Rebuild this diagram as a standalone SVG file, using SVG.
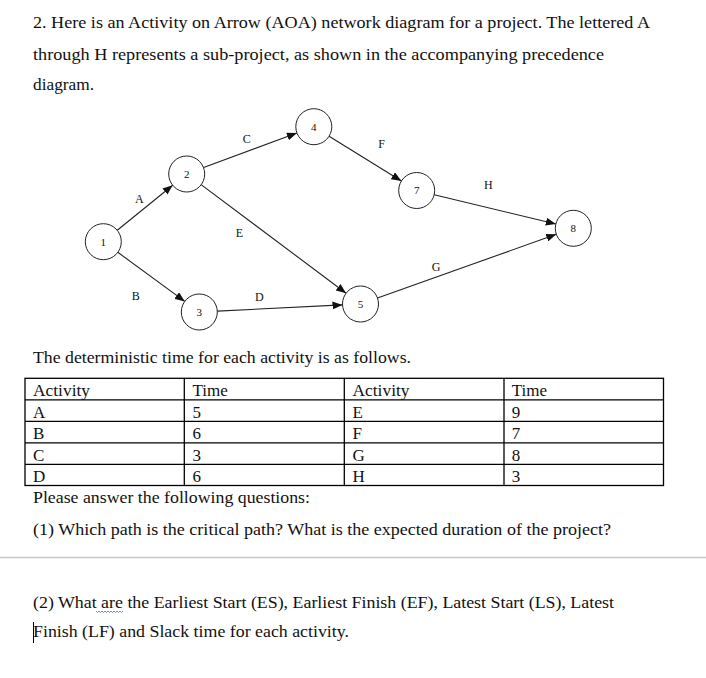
<svg xmlns="http://www.w3.org/2000/svg" width="706" height="678" viewBox="0 0 706 678">
<style>
.t{font-family:"Liberation Serif","Times New Roman",serif;font-size:17px;fill:#111}
.n{font-family:"Liberation Serif","Times New Roman",serif;font-size:11px;fill:#111;text-anchor:middle}
.l{font-family:"Liberation Serif","Times New Roman",serif;font-size:12px;fill:#111;text-anchor:middle}
.c{fill:#fff;stroke:#222;stroke-width:1}
.e{stroke:#222;stroke-width:1.1;fill:none;marker-end:url(#ah)}
.g{stroke:#000;stroke-width:1.3;fill:none}
</style>
<defs>
<marker id="ah" markerUnits="userSpaceOnUse" markerWidth="10" markerHeight="8" refX="10" refY="4" orient="auto">
<path d="M0,0 L10,4 L0,8 z" fill="#111"/>
</marker>
</defs>
<rect width="706" height="678" fill="#fff"/>
<g id="intro">
<text class="t" x="33" y="28" textLength="617" lengthAdjust="spacingAndGlyphs">2. Here is an Activity on Arrow (AOA) network diagram for a project. The lettered A</text>
<text class="t" x="33" y="60" textLength="571" lengthAdjust="spacingAndGlyphs">through H represents a sub-project, as shown in the accompanying precedence</text>
<text class="t" x="33" y="90" textLength="61" lengthAdjust="spacingAndGlyphs">diagram.</text>
</g>
<g id="connectors">
<line id="edge-A" class="e" x1="117.3" y1="230.3" x2="172.7" y2="185.2"/>
<line id="edge-B" class="e" x1="117.8" y1="252.3" x2="184.8" y2="301.4"/>
<line id="edge-C" class="e" x1="203.6" y1="167.5" x2="296.9" y2="133"/>
<line id="edge-E" class="e" x1="201.1" y1="184.6" x2="346.1" y2="293.2"/>
<line id="edge-D" class="e" x1="217.3" y1="311.1" x2="342.5" y2="304.9"/>
<line id="edge-F" class="e" x1="329.1" y1="136.2" x2="401.4" y2="181"/>
<line id="edge-H" class="e" x1="434.2" y1="194.7" x2="555.8" y2="224"/>
<line id="edge-G" class="e" x1="377.5" y1="298" x2="556.3" y2="234.3"/>
<text class="l" x="139.3" y="202.5">A</text>
<text class="l" x="135.7" y="300.2">B</text>
<text class="l" x="246.7" y="142.5">C</text>
<text class="l" x="239.3" y="236.9">E</text>
<text class="l" x="259.3" y="300.9">D</text>
<text class="l" x="381.7" y="147.5">F</text>
<text class="l" x="488.3" y="188.5">H</text>
<text class="l" x="436" y="270.9">G</text>
</g>
<g id="node-1"><circle class="c" cx="103.3" cy="241.7" r="18"/><text class="n" x="103.3" y="245.5">1</text></g>
<g id="node-2"><circle class="c" cx="186.7" cy="174" r="18"/><text class="n" x="186.7" y="177.8">2</text></g>
<g id="node-3"><circle class="c" cx="199.3" cy="312" r="18"/><text class="n" x="199.3" y="315.8">3</text></g>
<g id="node-4"><circle class="c" cx="313.8" cy="126.7" r="18"/><text class="n" x="313.8" y="130.5">4</text></g>
<g id="node-5"><circle class="c" cx="360.5" cy="304" r="18"/><text class="n" x="360.5" y="307.8">5</text></g>
<g id="node-7"><circle class="c" cx="416.7" cy="190.5" r="18"/><text class="n" x="416.7" y="194.3">7</text></g>
<g id="node-8"><circle class="c" cx="573.3" cy="228.3" r="18"/><text class="n" x="573.3" y="232.1">8</text></g>
<g id="table">
<text class="t" x="33" y="363" textLength="378" lengthAdjust="spacingAndGlyphs">The deterministic time for each activity is as follows.</text>
<rect class="g" x="25" y="378.3" width="638.5" height="107.2"/>
<line class="g" x1="25" y1="399.8" x2="663.5" y2="399.8"/>
<line class="g" x1="25" y1="421.3" x2="663.5" y2="421.3"/>
<line class="g" x1="25" y1="442.8" x2="663.5" y2="442.8"/>
<line class="g" x1="25" y1="464.3" x2="663.5" y2="464.3"/>
<line class="g" x1="184.3" y1="378.3" x2="184.3" y2="485.5"/>
<line class="g" x1="344.3" y1="378.3" x2="344.3" y2="485.5"/>
<line class="g" x1="504" y1="378.3" x2="504" y2="485.5"/>
<text class="t" x="33" y="396" textLength="57" lengthAdjust="spacingAndGlyphs">Activity</text>
<text class="t" x="192.5" y="396">Time</text>
<text class="t" x="352.5" y="396" textLength="57" lengthAdjust="spacingAndGlyphs">Activity</text>
<text class="t" x="511.7" y="396">Time</text>
<text class="t" x="33" y="417.5">A</text><text class="t" x="192.5" y="417.5">5</text><text class="t" x="352.5" y="417.5">E</text><text class="t" x="511.7" y="417.5">9</text>
<text class="t" x="33" y="439">B</text><text class="t" x="192.5" y="439">6</text><text class="t" x="352.5" y="439">F</text><text class="t" x="511.7" y="439" fill="#555">7</text>
<text class="t" x="33" y="460.5">C</text><text class="t" x="192.5" y="460.5">3</text><text class="t" x="352.5" y="460.5">G</text><text class="t" x="511.7" y="460.5">8</text>
<text class="t" x="33" y="481.5">D</text><text class="t" x="192.5" y="481.5">6</text><text class="t" x="352.5" y="481.5">H</text><text class="t" x="511.7" y="481.5">3</text>
</g>
<g id="questions">
<text class="t" x="33" y="503" textLength="277" lengthAdjust="spacingAndGlyphs">Please answer the following questions:</text>
<text class="t" x="33" y="535" textLength="578" lengthAdjust="spacingAndGlyphs">(1) Which path is the critical path? What is the expected duration of the project?</text>
<line x1="0" y1="557.5" x2="706" y2="557.5" stroke="#c8c8c8" stroke-width="1.5"/>
<text class="t" x="33" y="607.5" textLength="581" lengthAdjust="spacingAndGlyphs">(2) What are the Earliest Start (ES), Earliest Finish (EF), Latest Start (LS), Latest</text>
<path d="M96,611 l1.5,1.5 l1.5,-1.5 l1.5,1.5 l1.5,-1.5 l1.5,1.5 l1.5,-1.5 l1.5,1.5 l1.5,-1.5 l1.5,1.5 l1.5,-1.5 l1.5,1.5 l1.5,-1.5 l1.5,1.5 l1.5,-1.5 l1.5,1.5 l1.5,-1.5 l1.5,1.5 l1.5,-1.5" fill="none" stroke="#4a72c4" stroke-width="0.8"/>
<text class="t" x="33" y="637" textLength="316" lengthAdjust="spacingAndGlyphs">Finish (LF) and Slack time for each activity.</text>
<line x1="33.5" y1="622" x2="33.5" y2="643" stroke="#000" stroke-width="1"/>
</g>
</svg>
